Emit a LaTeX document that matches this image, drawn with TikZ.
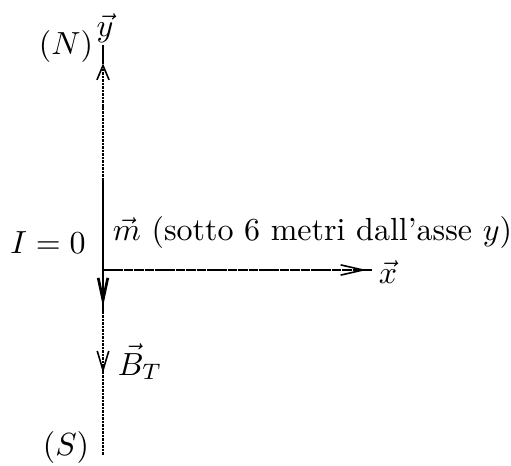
\documentclass[tikz,border=0pt]{standalone}
\usetikzlibrary{arrows.meta,calc,decorations.markings}
\tikzset{
  >={Straight Barb[length=6pt,width=3.6pt]},
  axis/.style={line width=0.5pt, dash pattern=on 0.8pt off 0.3pt},
  xaxis/.style={line width=0.5pt, dash pattern=on 3pt off 0.25pt},
  moment/.style={line width=0.85pt},
  lab/.style={inner sep=1pt},
}

\begin{document}
\begin{tikzpicture}[x=0.3125pt,y=-0.3125pt]
\useasboundingbox (0,0) rectangle (511,466);

% ---------------- axes ----------------
\coordinate (O) at (103,270);
\coordinate (ytop) at (103,45);
\coordinate (ybot) at (103,455);
\coordinate (xend) at (372,270);
\draw[axis, postaction={decorate}, decoration={markings,
    mark=at position 0.955 with {\arrow[solid]{Straight Barb[length=4.5pt,width=3.8pt]}},
    mark=at position 0.2 with {\arrowreversed[solid]{>}}}] (ybot) -- (ytop);
\draw[moment] (ytop) -- ++(0,17);
\draw[xaxis, postaction={decorate}, decoration={markings,
    mark=at position 0.98 with {\arrow[solid]{Straight Barb[length=7pt,width=3.2pt]}}}] (O) -- (xend);

% ---------------- moment m ----------------
\coordinate (mtop) at (103,180);
\coordinate (mbot) at (103,312);
\draw[moment, postaction={decorate}, decoration={markings,
    mark=at position 0.96 with {\arrow{Straight Barb[length=7pt,width=3pt]}}}] (mtop) -- (mbot);

% ---------------- labels ----------------
\node[lab] (ylab) at (105,28) {$\vec{y}$};
\node[lab] (N) at (66,47) {$(N)$};
\node[lab] (I) at (48,243) {$I=0$};
\node[lab, anchor=west] (mlab) at (109,232) {$\vec{m}$ (sotto 6 metri dall'asse $y$)};
\node[lab, anchor=west] (xlab) at ($(xend)+(3,2)$) {$\vec{x}$};
\node[lab] (BT) at (140,362) {$\vec{B}_T$};
\node[lab] (S) at (66,447) {$(S)$};

\end{tikzpicture}
\end{document}
